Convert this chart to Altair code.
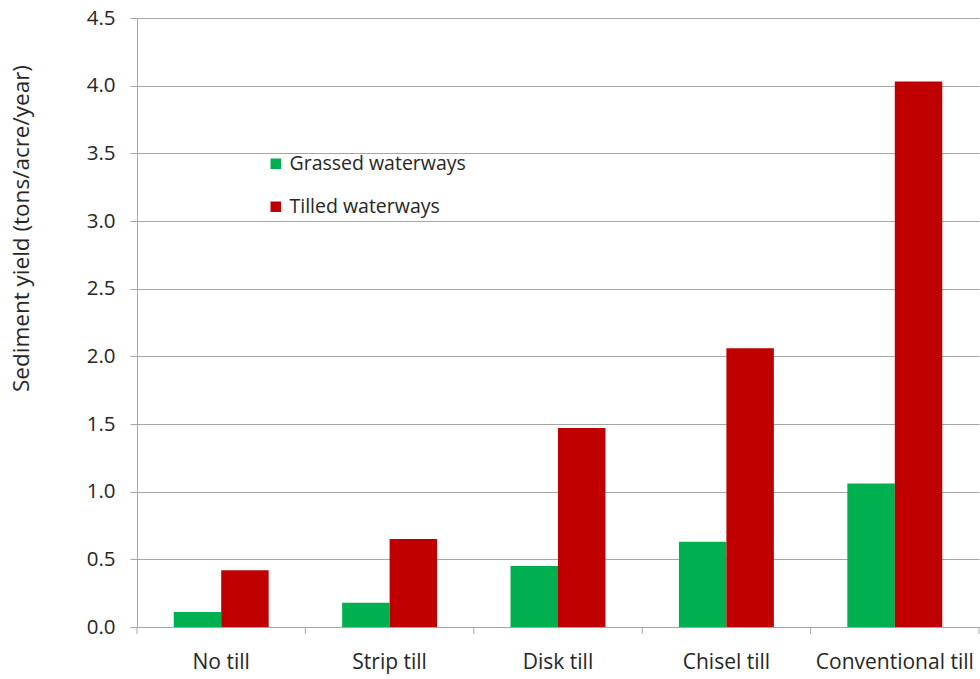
import altair as alt
import pandas as pd

categories = ["No till", "Strip till", "Disk till", "Chisel till", "Conventional till"]
grassed = [0.11, 0.18, 0.45, 0.63, 1.06]
tilled = [0.42, 0.65, 1.47, 2.06, 4.03]
series = ["Grassed waterways", "Tilled waterways"]
colors = ["#00B050", "#C00000"]

rows = []
for c, g, t in zip(categories, grassed, tilled):
    rows.append({"cat": c, "series": series[0], "value": g})
    rows.append({"cat": c, "series": series[1], "value": t})
df = pd.DataFrame(rows)
ticks_df = pd.DataFrame({"cat": categories})
last_df = pd.DataFrame({"cat": categories[-1:]})

FONT = "Open Sans"
TXT = "#262626"
GRID = "#A6A6A6"

xscale = alt.Scale(domain=categories, paddingInner=0, paddingOuter=0)

bars = alt.Chart(df).mark_bar().encode(
    x=alt.X("cat:N", scale=xscale, sort=categories,
            axis=alt.Axis(title=None, labelAngle=0, ticks=False, labelPadding=24,
                          labelFont=FONT, labelFontSize=21, labelColor=TXT, labelLimit=300,
                          domainColor=GRID, domainWidth=1)),
    xOffset=alt.XOffset("series:N", sort=series,
                        scale=alt.Scale(domain=series, paddingInner=0, paddingOuter=0.774)),
    y=alt.Y("value:Q",
            scale=alt.Scale(domain=[0, 4.5], nice=False),
            axis=alt.Axis(title="Sediment yield (tons/acre/year)", values=[0, 0.5, 1, 1.5, 2, 2.5, 3, 3.5, 4, 4.5],
                          format=".1f", tickSize=7, tickColor=GRID, domainColor=GRID,
                          gridColor=GRID, gridWidth=1, labelPadding=15,
                          labelFont=FONT, labelFontSize=20.5, labelColor=TXT,
                          titleFont=FONT, titleFontSize=22.5, titleFontWeight="normal",
                          titleColor=TXT, titleX=-116, titleY=210, titleAngle=270,
                          titleAlign="center", titleBaseline="middle")),
    color=alt.Color("series:N", sort=series,
                    scale=alt.Scale(domain=series, range=colors),
                    legend=alt.Legend(title=None, orient="none", legendX=129, legendY=136,
                                      symbolType="square", symbolSize=110, symbolStrokeWidth=0,
                                      labelFont=FONT, labelFontSize=19.5, labelColor=TXT,
                                      labelLimit=400,
                                      rowPadding=22, symbolOpacity=1, fillColor="white",
                                      labelOffset=4)),
)

tick_rules = alt.Chart(ticks_df).mark_rule(color=GRID, strokeWidth=1).encode(
    x=alt.X("cat:N", scale=xscale, sort=categories, bandPosition=0),
    y=alt.value(609), y2=alt.value(616),
)
last_rule = alt.Chart(last_df).mark_rule(color=GRID, strokeWidth=1).encode(
    x=alt.X("cat:N", scale=xscale, sort=categories, bandPosition=1),
    y=alt.value(609), y2=alt.value(616),
)

chart = alt.layer(bars, tick_rules, last_rule).properties(
    width=842, height=609,
    autosize=alt.AutoSizeParams(type="none"),
    padding={"left": 137, "top": 18, "right": 1, "bottom": 52},
    background="white",
).configure_view(stroke=None)

chart.save("out.html", embed_options={"renderer": "svg", "actions": False})
